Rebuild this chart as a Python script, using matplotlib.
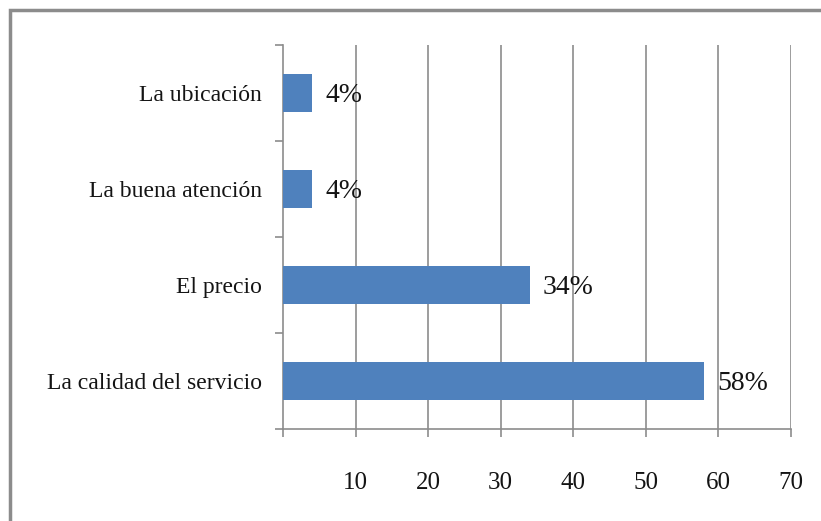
import matplotlib
matplotlib.use("Agg")
import matplotlib.pyplot as plt
from matplotlib.patches import Rectangle

categories = ["La calidad del servicio", "El precio", "La buena atención", "La ubicación"]
values = [58, 34, 4, 4]
value_labels = ["58%", "34%", "4%", "4%"]
xticks = [0, 10, 20, 30, 40, 50, 60, 70]
xtick_labels = ["", "10", "20", "30", "40", "50", "60", "70"]

plt.rcParams['font.family'] = ['Liberation Serif', 'DejaVu Serif']

fig = plt.figure(figsize=(8.21, 5.21), dpi=100)
ax = fig.add_axes([283/821, 1 - 429/521, (791 - 283)/821, (429 - 45)/521])

grid_c = "#8c8c8c"
bar_c = "#4f81bd"

ypos = list(range(len(categories)))
ax.barh(ypos, values, height=0.4, color=bar_c, zorder=3)

for y, v, lab in zip(ypos, values, value_labels):
    ax.text(v + 1.8, y, lab, va="center_baseline", ha="left", fontsize=20, color="#141414", zorder=4)

ax.set_xlim(0, 70)
ax.set_ylim(-0.5, len(categories) - 0.5)

ax.set_xticks(xticks)
ax.set_xticklabels(xtick_labels, fontsize=18, color="#141414")
ax.tick_params(axis="x", direction="out", length=6, width=1.2, color=grid_c, pad=25)

ax.set_yticks(ypos)
ax.set_yticklabels(categories, fontsize=17, color="#141414")
ax.tick_params(axis="y", which="major", length=0, pad=15)
ax.set_yticks([i - 0.5 for i in range(len(categories) + 1)], minor=True)
ax.tick_params(axis="y", which="minor", direction="out", length=6, width=1.2, color=grid_c)

for x in xticks[1:]:
    ax.axvline(x, color=grid_c, lw=1.2, zorder=1)

for s in ["top", "right"]:
    ax.spines[s].set_visible(False)
for s in ["left", "bottom"]:
    ax.spines[s].set_color(grid_c)
    ax.spines[s].set_linewidth(1.2)

# outer chart border
fig.patches.append(Rectangle((10/821, -0.05), 1.2, 1 - 10/521 + 0.05, transform=fig.transFigure,
                             fill=False, edgecolor="#8c8c8c", lw=2.5, zorder=0))

fig.savefig("out.png", dpi=100)
